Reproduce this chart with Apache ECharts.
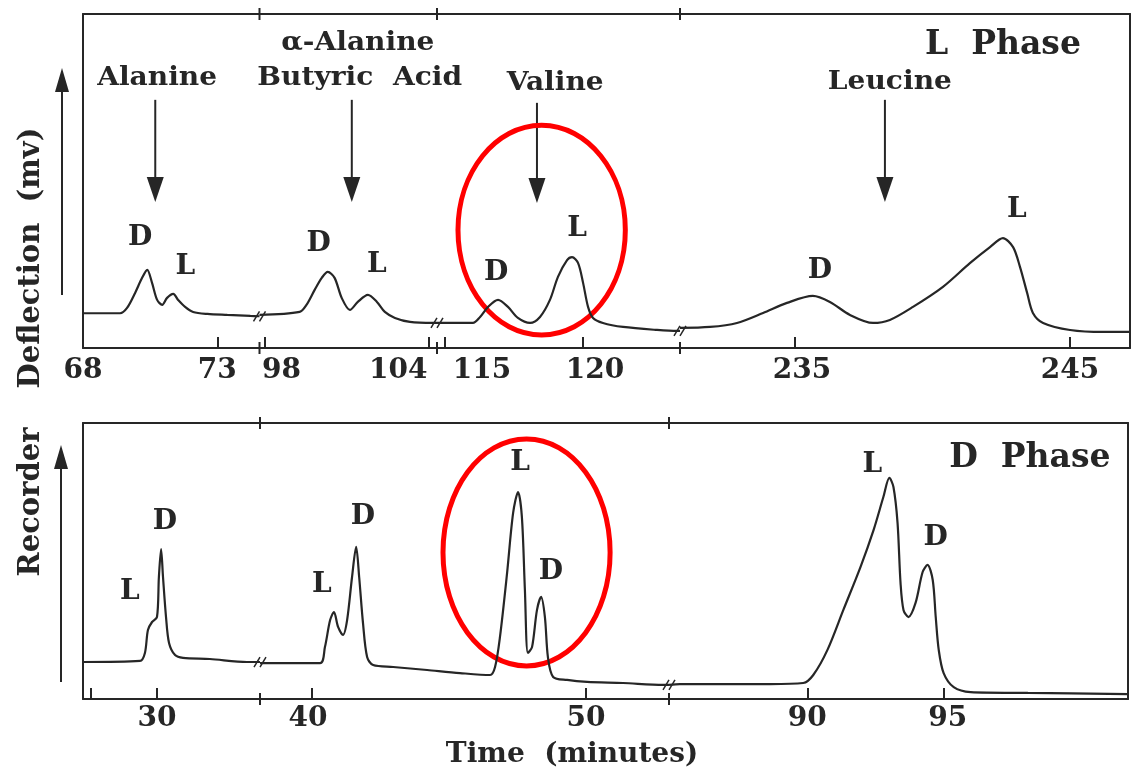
<!DOCTYPE html>
<html>
<head>
<meta charset="utf-8">
<title>Chromatogram L / D phase</title>
<script src="https://cdn.jsdelivr.net/npm/echarts@6/dist/echarts.min.js"></script>
<style>
  html, body { margin: 0; padding: 0; background: #fff; }
  #main { width: 1136px; height: 774px; }
</style>
</head>
<body>
<div id="main"></div>
<script>
// ---- data: [time (min), deflection (0-100)] ----
// L phase (top panel), axis broken into 4 pieces
const lPhaseRanges = [[68, 74.57], [97.82, 104.32], [114.71, 123.51], [230.82, 247.18]];
const lPhaseAlanine = [[68.0, 10.4], [69.38, 10.4], [69.64, 12.0], [69.94, 16.5], [70.2, 21.0], [70.39, 23.4], [70.57, 19.5], [70.76, 14.4], [70.95, 12.9], [71.13, 15.0], [71.36, 16.2], [71.54, 14.4], [71.8, 12.3], [72.1, 10.8], [72.63, 10.2], [73.37, 9.9], [74.23, 9.6], [74.57, 9.5]];
const lPhaseButyric = [[97.82, 9.9], [99.29, 10.8], [99.54, 12.9], [99.84, 17.4], [100.1, 21.0], [100.32, 22.8], [100.57, 21.0], [100.83, 15.0], [101.13, 11.4], [101.42, 13.8], [101.79, 15.9], [102.12, 13.8], [102.41, 10.8], [102.78, 9.0], [103.33, 7.8], [104.18, 7.5], [104.32, 7.5]];
const lPhaseValine = [[114.71, 7.5], [116.01, 7.5], [116.27, 9.3], [116.56, 12.3], [116.92, 14.4], [117.28, 12.3], [117.64, 9.0], [118.08, 7.5], [118.44, 9.3], [118.8, 14.4], [119.09, 21.3], [119.42, 26.3], [119.6, 27.2], [119.82, 25.4], [120.0, 19.5], [120.18, 12.3], [120.36, 9.0], [120.72, 7.5], [121.45, 6.3], [122.68, 5.4], [123.41, 5.1], [123.51, 5.1]];
const lPhaseLeucine = [[230.82, 6.0], [231.91, 6.3], [232.89, 7.5], [233.84, 10.5], [234.71, 13.5], [235.65, 15.6], [236.27, 13.8], [237.0, 9.9], [237.84, 7.5], [238.45, 8.4], [239.29, 12.3], [240.38, 18.3], [241.36, 25.4], [242.09, 30.2], [242.56, 32.9], [242.93, 30.2], [243.18, 24.3], [243.44, 16.5], [243.65, 10.5], [244.02, 7.5], [245.0, 5.4], [246.2, 4.8], [247.18, 4.8]];
const lPhaseTicks = [68, 73, 98, 104, 115, 120, 235, 245];

// D phase (bottom panel), axis broken into 3 pieces
const dPhaseRanges = [[27.3, 33.76], [38.1, 53.03], [84.93, 101.76]];
const dPhaseAlanine = [[27.3, 13.4], [29.38, 13.8], [29.56, 16.7], [29.67, 25.0], [29.82, 27.9], [30.0, 29.7], [30.07, 44.2], [30.15, 54.3], [30.22, 44.2], [30.33, 29.7], [30.44, 20.3], [30.66, 15.9], [30.95, 14.9], [31.93, 14.5], [33.28, 13.4], [33.76, 13.4]];
const dPhaseButyricValine = [[38.1, 13.0], [40.29, 13.0], [40.47, 18.8], [40.66, 28.6], [40.8, 31.5], [40.95, 26.1], [41.13, 23.2], [41.28, 28.6], [41.46, 44.2], [41.61, 55.1], [41.72, 44.2], [41.86, 27.5], [42.01, 15.2], [42.23, 12.3], [42.96, 11.6], [44.2, 10.5], [45.4, 9.4], [46.5, 8.7], [46.68, 11.6], [46.86, 22.5], [47.12, 45.7], [47.34, 67.4], [47.52, 75.0], [47.66, 65.9], [47.77, 39.5], [47.88, 16.7], [48.03, 18.8], [48.21, 32.2], [48.36, 37.0], [48.5, 29.7], [48.61, 15.2], [48.8, 8.0], [49.31, 6.9], [50.04, 6.2], [51.35, 5.8], [52.81, 5.1], [53.03, 5.1]];
const dPhaseLeucine = [[84.93, 5.1], [85.33, 5.4], [87.06, 5.4], [88.64, 5.4], [89.85, 5.8], [90.22, 8.7], [90.74, 17.8], [91.32, 32.2], [91.95, 47.8], [92.43, 61.2], [92.79, 73.2], [93.01, 80.1], [93.16, 76.8], [93.31, 63.8], [93.42, 42.0], [93.53, 32.2], [93.71, 29.7], [93.97, 34.8], [94.23, 46.0], [94.41, 48.6], [94.6, 43.1], [94.71, 29.7], [94.82, 17.8], [95.0, 9.4], [95.37, 4.3], [95.99, 2.5], [98.09, 2.2], [101.76, 1.8]];
const dPhaseTicks = [30, 40, 50, 90, 95];
const dPhaseMinorTicks = [27.6];

// ---- annotations, in data coords of a series: [seriesIndex, text, time, deflection] ----
const peakLabels = [
  [0, 'D', 70.13, 32.9], [0, 'L', 71.81, 24.3],
  [1, 'D', 99.99, 31.1], [1, 'L', 102.12, 24.9],
  [2, 'D', 116.85, 22.5], [2, 'L', 119.78, 35.6],
  [3, 'D', 235.91, 23.1], [3, 'L', 243.07, 41.3],
  [4, 'L', 29.01, 38.8], [4, 'D', 30.29, 64.1],
  [5, 'L', 40.36, 41.3], [5, 'D', 41.86, 65.9],
  [5, 'L', 47.59, 85.5], [5, 'D', 48.72, 46.0],
  [6, 'L', 92.39, 84.8], [6, 'D', 94.71, 58.3]
];
const compoundLabels = [
  [0, 'Alanine', 70.76, 80.8],
  [1, '\u03b1-Alanine', 101.42, 91.3],
  [1, 'Butyric  Acid', 101.49, 80.8],
  [2, 'Valine', 118.99, 79.3],
  [3, 'Leucine', 238.45, 79.6]
];
const phaseLabels = [[3, 'L  Phase', 242.56, 90.7], [6, 'D  Phase', 98.16, 87.0]];
// [seriesIndex, time, from, tip]
const elutionArrows = [[0, 70.69, 74.3, 43.7], [1, 101.2, 74.3, 43.7], [2, 118.33, 73.4, 43.4], [3, 238.27, 74.3, 43.7]];
// [seriesIndex, centre time, centre deflection, half width (min), half height]
const circles = [[2, 118.5, 35.3, 3.03, 31.4], [5, 47.83, 53.1, 3.05, 41.1]];

const INK = '#262626';
const SERIF = '"DejaVu Serif", "Liberation Serif", serif';
// tick labels in the scan sit a little off their ticks near the cuts (px)
const labelNudge = { 98: 17, 104: -30, 115: 37, 120: 12, 235: 7, 40: -4, 95: 4 };

const labelFont = { fontFamily: SERIF, fontWeight: 'bold', fontSize: 28, color: INK };
const labelRich = { c: Object.assign({}, labelFont) };
Object.keys(labelNudge).forEach(k => {
  const n = labelNudge[k];
  labelRich['n' + k] = Object.assign({ padding: n > 0 ? [0, 0, 0, 2 * n] : [0, -2 * n, 0, 0] }, labelFont);
});
const labelFormatter = v => '{' + (labelNudge[v] ? 'n' + v : 'c') + '|' + v + '}';

const panels = [
  { ranges: lPhaseRanges, boxes: [[83, 259.5], [259.5, 437], [437, 680], [680, 1130]], top: 14, height: 334,
    ticks: lPhaseTicks, minor: [], data: [lPhaseAlanine, lPhaseButyric, lPhaseValine, lPhaseLeucine], margin: 9 },
  { ranges: dPhaseRanges, boxes: [[83, 260], [260, 669], [669, 1128]], top: 423, height: 276,
    ticks: dPhaseTicks, minor: dPhaseMinorTicks, data: [dPhaseAlanine, dPhaseButyricValine, dPhaseLeucine], margin: 6 }
];

const grid = [], xAxis = [], yAxis = [], series = [];
panels.forEach(p => {
  p.ranges.forEach((r, i) => {
    const g = grid.length;
    const inRange = v => v >= r[0] - 1e-6 && v <= r[1] + 1e-6;
    const labels = p.ticks.filter(inRange);
    const ticks = labels.concat(p.minor.filter(inRange));
    grid.push({ left: p.boxes[i][0], width: p.boxes[i][1] - p.boxes[i][0], top: p.top, height: p.height });
    const xb = xAxis.length;
    xAxis.push({
      type: 'value', gridIndex: g, min: r[0], max: r[1], position: 'bottom',
      axisLine: { show: true, onZero: false, lineStyle: { color: INK, width: 2 } },
      axisTick: { show: true, inside: true, length: 11, customValues: ticks, lineStyle: { color: INK, width: 2 } },
      axisLabel: Object.assign({ show: true, customValues: labels, margin: p.margin, formatter: labelFormatter, rich: labelRich }, labelFont),
      splitLine: { show: false }
    });
    xAxis.push({
      type: 'value', gridIndex: g, min: r[0], max: r[1], position: 'top',
      axisLine: { show: true, onZero: false, lineStyle: { color: INK, width: 2 } },
      axisTick: { show: false }, axisLabel: { show: false }, splitLine: { show: false }
    });
    const yi = yAxis.length;
    yAxis.push({
      type: 'value', gridIndex: g, min: 0, max: 100, position: 'left',
      axisLine: { show: i === 0, lineStyle: { color: INK, width: 2 } },
      axisTick: { show: false }, axisLabel: { show: false }, splitLine: { show: false }
    });
    if (i === p.ranges.length - 1) {
      yAxis.push({
        type: 'value', gridIndex: g, min: 0, max: 100, position: 'right',
        axisLine: { show: true, lineStyle: { color: INK, width: 2 } },
        axisTick: { show: false }, axisLabel: { show: false }, splitLine: { show: false }
      });
    }
    series.push({
      type: 'line', xAxisIndex: xb, yAxisIndex: yi, data: p.data[i],
      showSymbol: false, smooth: 0.3, silent: true,
      lineStyle: { color: INK, width: 2.2 }
    });
  });
});

const chart = echarts.init(document.getElementById('main'));
chart.setOption({ animation: false, backgroundColor: '#fff', grid, xAxis, yAxis, series });

// ---- overlay: labels, arrows, circles, axis breaks ----
const at = (s, t, v) => chart.convertToPixel({ seriesIndex: s }, [t, v]);
const text = (x, y, str, size, extra) => Object.assign({
  type: 'text', x, y, silent: true,
  style: { text: str, font: 'bold ' + size + 'px ' + SERIF, fill: INK,
    align: 'center', verticalAlign: 'middle', textAlign: 'center', textVerticalAlign: 'middle' }
}, extra || {});
const arrow = (x, y0, y1, head, w) => {
  const base = y1 + (y1 > y0 ? -head : head);
  return [
    { type: 'line', silent: true, shape: { x1: x, y1: y0, x2: x, y2: base }, style: { stroke: INK, lineWidth: 2 } },
    { type: 'polygon', silent: true, shape: { points: [[x - w / 2, base], [x + w / 2, base], [x, y1]] }, style: { fill: INK } }
  ];
};

const graphics = [];
peakLabels.forEach(([s, t, x, v]) => { const p = at(s, x, v); graphics.push(text(p[0], p[1], t, 28)); });
compoundLabels.forEach(([s, t, x, v]) => { const p = at(s, x, v); graphics.push(text(p[0], p[1], t, 26, { scaleX: 1.08 })); });
phaseLabels.forEach(([s, t, x, v]) => { const p = at(s, x, v); graphics.push(text(p[0], p[1], t, 33)); });
elutionArrows.forEach(([s, t, v0, v1]) => {
  const a = at(s, t, v0), b = at(s, t, v1);
  graphics.push(...arrow(a[0], a[1], b[1], 25, 17));
});
circles.forEach(([s, t, v, dt, dv]) => {
  const c = at(s, t, v), e = at(s, t + dt, v + dv);
  graphics.push({ type: 'ellipse', silent: true, shape: { cx: c[0], cy: c[1], rx: Math.abs(e[0] - c[0]), ry: Math.abs(c[1] - e[1]) },
    style: { fill: 'none', stroke: '#ff0000', lineWidth: 5 } });
});
// break marks where the time axis is cut
let sIdx = 0;
panels.forEach(p => {
  p.ranges.forEach((r, i) => {
    if (i < p.ranges.length - 1) {
      const last = p.data[i][p.data[i].length - 1];
      const c = at(sIdx, last[0], last[1]);
      const x = c[0];
      [p.top, p.top + p.height].forEach(y => {
        graphics.push({ type: 'line', silent: true, shape: { x1: x, y1: y - 6, x2: x, y2: y + 6 }, style: { stroke: INK, lineWidth: 2 } });
      });
      [-3, 3].forEach(dx => {
        graphics.push({ type: 'line', silent: true, shape: { x1: x + dx - 3, y1: c[1] + 5, x2: x + dx + 3, y2: c[1] - 5 }, style: { stroke: INK, lineWidth: 1.5 } });
      });
    }
    sIdx++;
  });
});
// y title and its arrows, x title
graphics.push(text(31, 258, 'Deflection  (mv)', 29, { rotation: Math.PI / 2 }));
graphics.push(text(31, 502, 'Recorder', 29, { rotation: Math.PI / 2 }));
graphics.push(...arrow(62, 295, 68, 24, 14));
graphics.push(...arrow(61, 682, 445, 24, 14));
graphics.push(text(572, 755, 'Time  (minutes)', 28));

chart.setOption({ graphic: graphics });
</script>
</body>
</html>
